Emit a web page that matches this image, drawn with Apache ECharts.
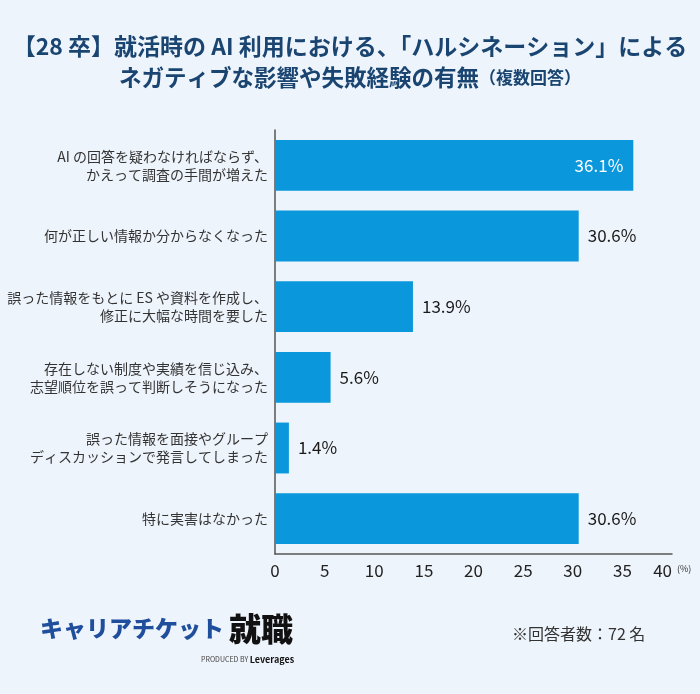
<!DOCTYPE html>
<html>
<head>
<meta charset="utf-8">
<script src="https://cdn.jsdelivr.net/npm/echarts@6/dist/echarts.min.js"></script>
<style>
html,body{margin:0;padding:0;background:#EEF4FC;}
#chart{width:700px;height:694px;}
</style>
</head>
<body>
<div id="chart"></div>
<script>
const categories = [
  'AI の回答を疑わなければならず、\nかえって調査の手間が増えた',
  '何が正しい情報か分からなくなった',
  '誤った情報をもとに ES や資料を作成し、\n修正に大幅な時間を要した',
  '存在しない制度や実績を信じ込み、\n志望順位を誤って判断しそうになった',
  '誤った情報を面接やグループ\nディスカッションで発言してしまった',
  '特に実害はなかった'
];
const values = [36.1, 30.6, 13.9, 5.6, 1.4, 30.6];
const xTicks = [0, 5, 10, 15, 20, 25, 30, 35, 40];

const FONT = '"Noto Sans CJK JP", "Noto Sans", sans-serif';
const chart = echarts.init(document.getElementById('chart'));

const data = values.map((v, i) => ({
  value: v,
  label: i === 0
    ? { position: 'insideRight', distance: 10, color: '#ffffff' }
    : { position: 'right', distance: 9, color: '#1a1a1a' }
}));

chart.setOption({
  backgroundColor: '#EEF4FC',
  textStyle: { fontFamily: FONT },
  graphic: [
    { type: 'text', left: 'center', top: 35,
      style: { text: '【28 卒】就活時の AI 利用における、「ハルシネーション」による', font: 'bold 23px ' + FONT, fill: '#1b4571' } },
    { type: 'text', left: 'center', top: 66,
      style: { text: '{a|ネガティブな影響や失敗経験の有無}{b|（複数回答）}',
        rich: { a: { font: 'bold 22.5px ' + FONT, fill: '#1b4571', color: '#1b4571' },
                b: { font: 'bold 17px ' + FONT, fill: '#1b4571', color: '#1b4571' } } } },
    { type: 'text', left: 677, top: 564,
      style: { text: '(%)', font: '9px ' + FONT, fill: '#333' } },
    { type: 'text', left: 40, top: 617,
      style: { text: 'キャリアチケット', font: '900 23px ' + FONT, fill: '#1f4e9c' } },
    { type: 'text', left: 229, top: 613,
      style: { text: '就職', font: '900 32px ' + FONT, fill: '#111' } },
    { type: 'text', left: 201, top: 655,
      style: { text: '{p|PRODUCED BY }{l|Leverages}',
        rich: { p: { font: '7px ' + FONT, fill: '#444', color: '#444' },
                l: { font: 'bold 9px ' + FONT, fill: '#111', color: '#111' } } } },
    { type: 'text', left: 512, top: 626,
      style: { text: '※回答者数：72 名', font: '16px ' + FONT, fill: '#333' } }
  ],
  grid: { left: 275, right: 28, top: 130, bottom: 140, containLabel: false },
  xAxis: {
    type: 'value', min: 0, max: 40, interval: 5,
    axisLine: { show: true, lineStyle: { color: '#555', width: 1.5 } },
    axisTick: { show: false },
    splitLine: { show: false },
    axisLabel: { color: '#222', fontSize: 17, margin: 8, fontFamily: FONT, alignMaxLabel: 'right',
      formatter: v => xTicks.includes(v) ? String(v) : '' }
  },
  yAxis: {
    type: 'category', data: categories, inverse: true,
    axisLine: { show: true, lineStyle: { color: '#555', width: 1.5 } },
    axisTick: { show: false },
    axisLabel: { color: '#333', fontSize: 14, lineHeight: 18, margin: 7, fontFamily: FONT, align: 'right' }
  },
  series: [{
    type: 'bar', data: data, barCategoryGap: '28%',
    itemStyle: { color: '#0a97dc' },
    label: { show: true, fontSize: 17, fontFamily: FONT, formatter: p => p.value.toFixed(1) + '%' }
  }]
});
</script>
</body>
</html>
